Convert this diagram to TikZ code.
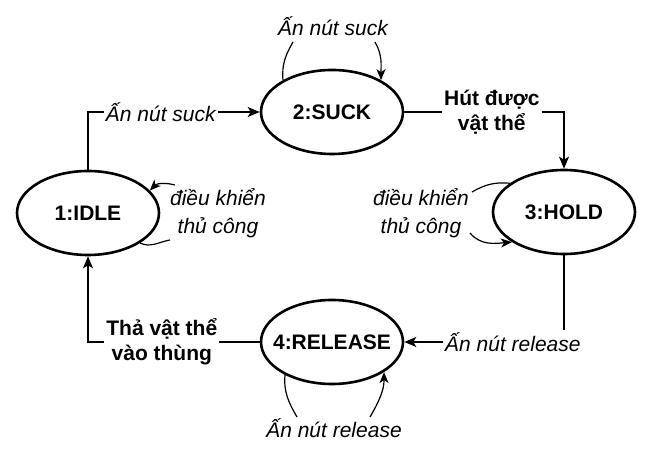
\documentclass[tikz,border=0pt]{standalone}
\usepackage{fontspec}
\setmainfont{Liberation Sans}
\usetikzlibrary{arrows.meta,shapes.geometric}
\begin{document}
\begin{tikzpicture}[x=1pt,y=1pt,
  state/.style={ellipse,draw,line width=2.6pt,minimum width=142pt,minimum height=84pt,inner ysep=0pt,inner xsep=-9pt,font=\fontsize{21}{25}\selectfont\bfseries},
  edge/.style={line width=1.5pt,-{Stealth[length=12pt,width=10pt,inset=3pt]}},
  plain/.style={line width=1.5pt},
  loopln/.style={line width=1.2pt},
  looparr/.style={line width=1.2pt,-{Stealth[length=11pt,width=9pt,inset=3pt]}},
  ilab/.style={fill=white,inner sep=2pt,font=\fontsize{21}{25}\selectfont\itshape,align=center},
  blab/.style={fill=white,inner sep=2pt,font=\fontsize{21}{25}\selectfont\bfseries,align=center},
  llab/.style={inner sep=0pt,font=\fontsize{21}{28}\selectfont\itshape,align=center}
]
\useasboundingbox (0,0) rectangle (650,457);
\node[state] (idle) at (88,244) {1:IDLE};
\node[state] (suck) at (332,345) {2:SUCK};
\node[state] (hold) at (564,245) {3:HOLD};
\node[state] (release) at (332,115) {4:RELEASE};

% main transitions
\draw[edge] (idle.north) |- node[pos=0.712,ilab] {Ấn nút suck} (suck.west);
\draw[edge] (suck.east) -| node[pos=0.274,blab] {Hút được\\vật thể} (hold.north);
\draw[edge] (hold.south) |- node[pos=0.66,ilab] {Ấn nút release} (release.east);
\draw[edge] (release.west) -| node[pos=0.285,blab] {Thả vật thể\\vào thùng} (idle.south);

% self-loop labels
\node[llab] (sl) at (333,431) {Ấn nút suck};
\node[llab] (rl) at (334,29) {Ấn nút release};
\node[llab] (il) at (218,244) {điều khiển\\thủ công};
\node[llab] (hl) at (421,244) {điều khiển\\thủ công};

\coordinate (a1) at (293,415);
\coordinate (a2) at (375,415);
\coordinate (b1) at (297,40);
\coordinate (b2) at (370,40);
\coordinate (c1) at (175,272);
\coordinate (c2) at (170,217);
\coordinate (d1) at (472,265);
\coordinate (d2) at (470,224);

\draw[loopln] (suck.147) to[out=95,in=-120] (a1);
\draw[looparr] (a2) to[out=-60,in=90] (suck.33);
\draw[loopln] (release.215) to[out=-95,in=120] (b1);
\draw[looparr] (b2) to[out=60,in=-90] (release.330);
\draw[looparr] (c1) to[out=165,in=45] (idle.20);
\draw[loopln] (idle.-30) to[out=-25,in=190] (c2);
\draw[loopln] (hold.152) to[out=175,in=30] (d1);
\draw[looparr] (d2) to[out=-50,in=185] (hold.210);
\end{tikzpicture}
\end{document}
